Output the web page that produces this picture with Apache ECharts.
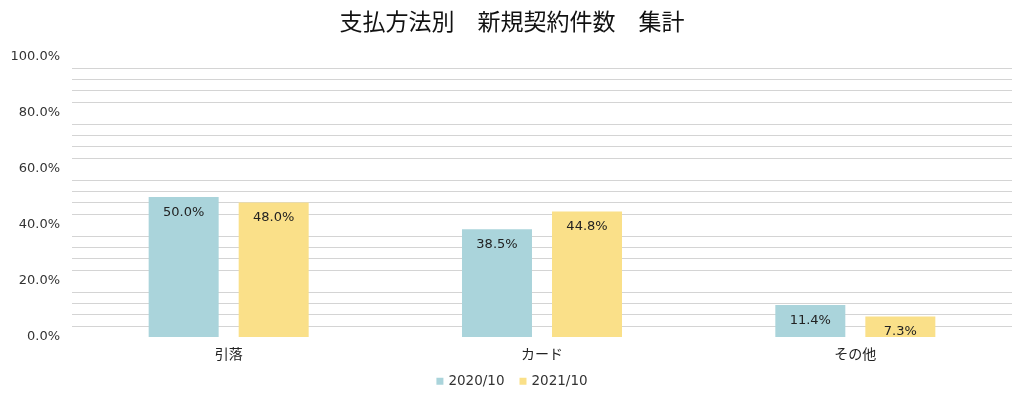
<!DOCTYPE html>
<html>
<head>
<meta charset="utf-8">
<script src="https://cdn.jsdelivr.net/npm/echarts@6/dist/echarts.min.js"></script>
<style>
html, body { margin: 0; padding: 0; background: #fff; }
#main { width: 1024px; height: 406px; }
</style>
</head>
<body>
<div id="main"></div>
<script>
// 支払方法別 新規契約件数
var categories = ['引落', 'カード', 'その他'];
var seriesNames = ['2020/10', '2021/10'];
var values2020 = [50.0, 38.5, 11.4];
var values2021 = [48.0, 44.8, 7.3];

var font = '"DejaVu Sans", "Noto Sans CJK JP", sans-serif';

function barSeries(name, data, color) {
	return {
		name: name,
		type: 'bar',
		data: data,
		barWidth: 70,
		barGap: '28.6%',
		itemStyle: { color: color },
		label: {
			show: true,
			position: 'insideTop',
			distance: 9,
			fontSize: 13,
			fontFamily: font,
			color: '#222',
			formatter: function (p) { return p.value.toFixed(1) + '%'; }
		}
	};
}

var myChart = echarts.init(document.getElementById('main'));
var option = {
	animation: false,
	textStyle: { fontFamily: font },
	title: {
		text: '支払方法別　新規契約件数　集計',
		left: 'center',
		top: 5,
		textStyle: {
			fontFamily: '"Noto Sans CJK JP", sans-serif',
			fontSize: 23,
			fontWeight: 'normal',
			color: '#111'
		}
	},
	legend: {
		data: seriesNames,
		bottom: 13,
		left: 'center',
		icon: 'rect',
		itemWidth: 7,
		itemHeight: 7,
		itemGap: 15,
		textStyle: { fontSize: 13.5, color: '#333', fontFamily: font }
	},
	grid: {
		left: 72,
		right: 12,
		top: 57,
		bottom: 69
	},
	xAxis: {
		type: 'category',
		data: categories,
		axisLine: { show: false },
		axisTick: { show: false },
		axisLabel: {
			fontSize: 14,
			color: '#222',
			margin: 10,
			fontFamily: '"Noto Sans CJK JP", sans-serif'
		}
	},
	yAxis: {
		type: 'value',
		min: 0,
		max: 100,
		interval: 20,
		axisLine: { show: false },
		axisTick: { show: false },
		axisLabel: {
			fontSize: 13,
			color: '#333',
			margin: 12,
			formatter: function (v) { return v.toFixed(1) + '%'; }
		},
		splitLine: { show: false },
		minorTick: { show: false, splitNumber: 5 },
		minorSplitLine: {
			show: true,
			lineStyle: { color: '#d4d4d4', width: 1 }
		}
	},
	series: [
		barSeries(seriesNames[0], values2020, '#aad4db'),
		barSeries(seriesNames[1], values2021, '#fae089')
	]
};
myChart.setOption(option);
</script>
</body>
</html>
